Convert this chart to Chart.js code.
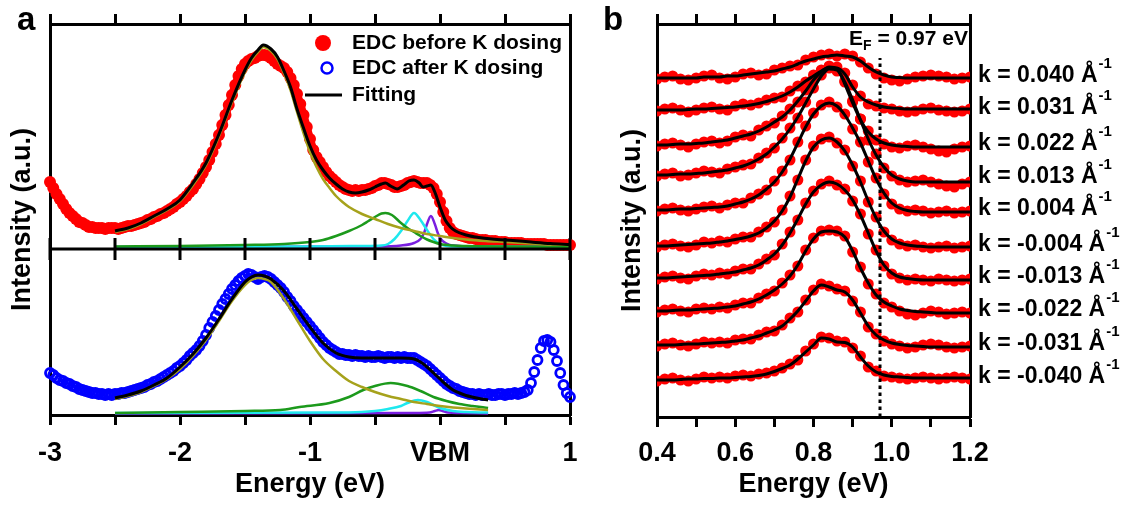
<!DOCTYPE html>
<html>
<head>
<meta charset="utf-8">
<script src="https://cdn.jsdelivr.net/npm/chart.js@4.4.1/dist/chart.umd.min.js"></script>
<style>
  html, body { margin: 0; padding: 0; background: #fff; }
  body { width: 1125px; height: 506px; position: relative; overflow: hidden; }
  canvas { position: absolute; top: 0; }
  #edcChart { left: 0; }
  #cutChart { left: 600px; }
</style>
</head>
<body>
<canvas id="edcChart" width="600" height="506"></canvas>
<canvas id="cutChart" width="525" height="506"></canvas>
<script>
const FONT = '"Liberation Sans", Arial, Helvetica, sans-serif';

// ---------- panel a: EDCs through the VBM before / after K dosing ----------
const edcStart = -3.0;
const edcStep = 0.025;
const upperOffset = 166; // "before" curves are stacked above the "after" curves

const edcBefore = [
  67, 61, 55, 50, 45, 40, 36, 33, 30, 27,
  26, 24, 22, 22, 21, 21, 21, 20, 21, 21,
  21, 20, 21, 22, 23, 23, 24, 25, 26, 27,
  29, 30, 32, 33, 35, 36, 38, 40, 42, 45,
  47, 50, 53, 57, 60, 65, 70, 76, 82, 89,
  97, 105, 114, 124, 134, 144, 154, 164, 173, 180,
  185, 188, 190, 191, 193, 194, 194, 193, 191, 188,
  185, 183, 181, 177, 171, 164, 155, 145, 134, 122,
  110, 99, 92, 87, 82, 77, 73, 70, 67, 64,
  62, 60, 59, 58, 59, 58, 59, 59, 60, 61,
  63, 64, 66, 66, 65, 64, 62, 62, 63, 64,
  66, 67, 68, 67, 66, 66, 66, 64, 61, 55,
  47, 37, 28, 21, 17, 15, 14, 13, 12, 11,
  11, 10, 9, 9, 9, 8, 8, 8, 7, 7,
  7, 6, 6, 6, 6, 6, 5, 5, 5, 5,
  5, 5, 5, 4, 4, 4, 4, 4, 4, 4,
  4
];

const edcAfter = [
  42, 40, 37, 35, 34, 32, 31, 29, 28, 26,
  25, 24, 23, 22, 22, 21, 21, 20, 21, 20,
  21, 21, 22, 22, 23, 24, 25, 26, 27, 28,
  30, 31, 33, 34, 36, 38, 40, 42, 44, 47,
  49, 52, 55, 59, 62, 65, 69, 74, 80, 87,
  93, 99, 105, 111, 116, 121, 126, 130, 134, 137,
  139, 141, 140, 138, 136, 138, 139, 138, 136, 133,
  130, 127, 123, 118, 114, 109, 105, 101, 97, 93,
  89, 85, 81, 77, 73, 70, 67, 65, 63, 61,
  61, 60, 60, 59, 60, 59, 59, 58, 59, 58,
  58, 59, 58, 57, 58, 58, 57, 58, 57, 58,
  57, 57, 57, 55, 53, 51, 49, 46, 43, 40,
  37, 34, 31, 29, 27, 26, 24, 23, 22, 21,
  21, 20, 21, 20, 20, 21, 20, 20, 21, 21,
  20, 21, 21, 22, 21, 22, 23, 25, 32, 43,
  55, 67, 74, 75, 73, 65, 54, 42, 30, 22,
  18
];

// fitted curves, [energy, intensity]
const fitBefore = [
  [-2.5, 18], [-2.4, 21], [-2.3, 26], [-2.2, 33], [-2.1, 40], [-2.0, 49], [-1.9, 66],
  [-1.8, 86], [-1.7, 115], [-1.6, 149], [-1.5, 179], [-1.45, 191], [-1.4, 199], [-1.36, 204],
  [-1.3, 200], [-1.25, 192], [-1.2, 178], [-1.15, 162], [-1.1, 140], [-1.05, 121], [-1.0, 103],
  [-0.95, 89], [-0.9, 79], [-0.85, 71], [-0.8, 65], [-0.75, 60], [-0.7, 57], [-0.65, 56],
  [-0.6, 57], [-0.55, 59], [-0.5, 62], [-0.45, 65], [-0.42, 66], [-0.38, 63], [-0.33, 60],
  [-0.28, 64], [-0.24, 68], [-0.2, 69], [-0.16, 66], [-0.13, 62], [-0.1, 63], [-0.07, 64],
  [-0.04, 57], [0.0, 42], [0.04, 29], [0.08, 22], [0.12, 18], [0.2, 14], [0.3, 11.5],
  [0.4, 10], [0.56, 8.5], [0.7, 7], [0.85, 5.5], [1.0, 4.5]
];
const bkgBefore = [
  [-2.5, 17], [-2.4, 20], [-2.3, 25], [-2.2, 32], [-2.1, 39], [-2.0, 48], [-1.9, 64],
  [-1.8, 84], [-1.7, 113], [-1.6, 147], [-1.5, 177], [-1.45, 189], [-1.4, 197], [-1.36, 202],
  [-1.3, 198], [-1.25, 190], [-1.2, 176], [-1.15, 159], [-1.1, 137], [-1.05, 116], [-1.0, 97],
  [-0.95, 82], [-0.9, 70], [-0.85, 61], [-0.8, 53], [-0.75, 47], [-0.7, 42], [-0.6, 35],
  [-0.5, 30], [-0.4, 25], [-0.3, 21], [-0.2, 18], [-0.1, 15], [0.0, 13], [0.1, 11],
  [0.2, 9.5], [0.35, 8], [0.5, 7], [0.7, 5.5], [0.85, 4.5], [1.0, 4]
];
const peak1Before = [
  [-2.5, 2.5], [-2.0, 3], [-1.5, 4], [-1.2, 5], [-1.0, 7], [-0.9, 9], [-0.8, 13], [-0.7, 18],
  [-0.6, 24], [-0.55, 28], [-0.5, 32], [-0.45, 35.5], [-0.42, 36], [-0.37, 34], [-0.3, 26],
  [-0.25, 21], [-0.2, 17], [-0.15, 13], [-0.1, 9.5], [-0.05, 7], [0.0, 5], [0.1, 3.5],
  [0.2, 3], [0.5, 2.5], [1.0, 2]
];
const peak2Before = [
  [-2.5, 2], [-1.0, 2.5], [-0.6, 3], [-0.45, 3.5], [-0.4, 5], [-0.35, 10], [-0.3, 18],
  [-0.25, 28], [-0.2, 36], [-0.15, 29], [-0.1, 19], [-0.05, 10], [0.0, 5], [0.05, 3],
  [0.1, 2.5], [0.5, 2.2], [1.0, 2]
];
const peak3Before = [
  [-2.5, 2], [-0.5, 2.5], [-0.3, 3.5], [-0.2, 6], [-0.15, 10], [-0.12, 17], [-0.1, 25],
  [-0.07, 33], [-0.04, 25], [-0.02, 17], [0.0, 11], [0.05, 5.5], [0.1, 3.5], [0.3, 2.5],
  [1.0, 2]
];

const fitAfter = [
  [-2.5, 17], [-2.4, 20], [-2.3, 24], [-2.2, 30], [-2.1, 37], [-2.0, 48], [-1.9, 61],
  [-1.8, 77], [-1.7, 96], [-1.6, 116], [-1.5, 133], [-1.45, 138], [-1.4, 140], [-1.35, 139],
  [-1.3, 136], [-1.2, 124], [-1.1, 106], [-1.0, 88], [-0.9, 72], [-0.8, 62], [-0.7, 58],
  [-0.6, 57], [-0.5, 57], [-0.4, 57], [-0.3, 57], [-0.2, 56], [-0.15, 53], [-0.1, 48],
  [-0.05, 42], [0.0, 36], [0.05, 30], [0.1, 25], [0.15, 22], [0.2, 19.5], [0.3, 16.5],
  [0.37, 15]
];
const bkgAfter = [
  [-2.5, 16], [-2.4, 19], [-2.3, 23], [-2.2, 29], [-2.1, 36], [-2.0, 46], [-1.9, 59],
  [-1.8, 75], [-1.7, 94], [-1.6, 114], [-1.5, 130], [-1.45, 135], [-1.4, 137], [-1.35, 136],
  [-1.3, 133], [-1.2, 116], [-1.1, 95], [-1.0, 74], [-0.9, 56], [-0.8, 44], [-0.7, 34],
  [-0.6, 28], [-0.5, 23], [-0.4, 19], [-0.3, 16], [-0.2, 13], [-0.1, 11], [0.0, 9],
  [0.1, 7.5], [0.2, 6.5], [0.37, 5]
];
const peak1After = [
  [-2.5, 2], [-2.0, 3], [-1.5, 4], [-1.23, 5], [-1.08, 8], [-0.85, 12], [-0.7, 18],
  [-0.59, 25], [-0.5, 29], [-0.38, 32], [-0.25, 29], [-0.15, 24], [-0.05, 18], [0.05, 14],
  [0.15, 11], [0.25, 9], [0.37, 7]
];
const peak2After = [
  [-2.5, 2], [-0.7, 2.5], [-0.5, 4], [-0.4, 6], [-0.3, 9], [-0.25, 12], [-0.17, 15],
  [-0.1, 13], [-0.05, 10], [0.0, 7], [0.1, 4], [0.2, 3], [0.37, 2.5]
];
const peak3After = [
  [-2.5, 1.5], [-0.2, 2], [-0.08, 2.5], [-0.04, 4], [-0.01, 5], [0.02, 4], [0.06, 2.5],
  [0.15, 2], [0.37, 1.5]
];

// ---------- panel b: EDC stack at fixed k ----------
const cutStart = 0.40;
const cutStep = 0.02;
const fermiLevel = 0.97;
const fermiLineTop = 359;

const data040 = [338,340,341,338,337,339,341,342,339,338, 340,343,344,342,343,347,349,351,352,357, 360,362,363,361,363,361,355,349,343,339, 337,336,338,340,341,342,341,340,338,339,340];
const fit040  = [339,339,339,339,339,339,340,340,340,341, 341,342,343,344,345,346,348,350,353,356, 358,360,361,362,361,360,356,350,345,342, 340,339.5,339,339,339,339,339,339,339,339,339];
const data031 = [306,308,309,307,305,307,309,310,308,307, 311,313,312,314,317,319,320,326,331,335, 342,347,350,350,344,332,321,313,311,309, 308,306,305,306,308,309,307,306,305,306,308];
const fit031  = [307,307,307,307,307.5,308,308,308.5,309,309.5, 310,311,312,313.5,315.5,318,321,325,330,336, 341,346,349.5,349,343,330,320,315,312,310, 309,308.5,308,308,308,308,308,308,308,308,308];
const data022 = [271,273,274,272,270,273,275,276,274,276, 280,282,281,287,291,294,301,308,315,327, 338,346,351,347,335,315,298,286,277,273, 270,269,271,272,270,268,266,265,268,270,271];
const fit022  = [272,272,272.5,273,273,273.5,274,275,276,277, 279,281,283,286,290,295,300,307,316,326, 337,345,350,348,333,314,297,285,278,274, 272,271,270.5,270,270,270,270,270,270,270,270];
const data013 = [241,243,244,241,242,244,246,245,244,248, 250,252,253,259,264,269,279,289,299,315, 329,342,349,346,336,316,298,277,263,249, 241,237,235,236,237,235,233,231,230,233,235];
const fit013  = [242,242,242.5,243,243,243.5,244,245,246,247, 249,251,254,258,263,270,278,288,300,314, 328,341,348,347,335,317,297,278,262,250, 242,238,236,235,235,235,235,235,235,235,235];
const data004 = [206,208,209,207,206,208,210,211,209,212, 214,214,219,223,227,236,246,257,275,291, 304,312,315,310,303,288,275,255,239,223, 213,208,206,207,206,204,205,206,204,205,206];
const fit004  = [207,207,207.5,208,208,208.5,209,209.5,210,211, 213,215,218,222,228,235,245,258,274,290, 303,311,314,311,302,289,274,256,238,224, 214,209,206.5,205.5,205,205,205,205,205,205,205];
const dataM004 = [170,172,173,171,170,172,175,174,176,175, 178,180,180,185,190,195,207,221,237,257, 271,278,280,274,267,251,236,215,200,185, 177,173,171,172,170,169,170,171,169,170,171];
const fitM004  = [171,171,171.5,172,172.5,173,173.5,174,175,176, 177.5,179,181,184,189,196,206,220,238,256, 270,277,279,275,266,252,235,216,199,186, 178,174,172,171,170.5,170,170,170,170,170,170];
const dataM013 = [138,140,141,139,138,141,143,142,144,143, 146,148,148,153,158,162,173,185,197,214, 226,233,236,232,228,216,203,183,167,151, 143,139,137,138,137,136,138,137,136,137,138];
const fitM013  = [139,139,139.5,140,140.5,141,141.5,142,143,144, 145,147,149,152,157,163,172,184,198,213, 225,232,235,233,227,217,202,184,166,152, 144,140,138.5,137.5,137,137,137,137,137,137,137];
const dataM022 = [105,107,108,106,105,108,109,108,110,109, 112,114,114,119,123,126,134,142,151,167, 179,186,187,186,181,165,150,133,123,114, 110,106,103,102,104,106,105,103,104,105,104];
const fitM022  = [106,106,106.5,107,107,107.5,108,108.5,109,110, 111,113,115,118,122,127,133,141,152,166, 178,185,186,185,180,166,149,134,122,115, 111,108,106.5,105.5,105,104.5,104,104,104,104,104];
const dataM031 = [71,73,74,72,71,73,75,74,75,74, 77,78,78,82,85,86,92,99,105,117, 127,133,131,128,126,116,105,90,83,76, 73,71,69,70,72,73,72,70,69,70,71];
const fitM031  = [72,72,72,72.5,73,73,73.5,74,74.5,75, 76,77,79,81,84,87,91,98,106,116, 126,132,130,127,125,117,104,91,82,77, 74,72.5,71.5,71,70.5,70,70,70,70,70,70];
const dataM040 = [36,38,39,37,36,38,40,39,40,39, 41,42,41,43,44,46,49,53,57,66, 73,80,79,76,75,69,61,50,46,41, 40,39,38,39,40,39,38,39,40,39,38];
const fitM040  = [37,37,37,37.5,38,38,38.5,38.5,39,39, 39.5,40,40.5,41.5,43,45.5,48.5,52,58,65, 72,79,78,75,74.5,70,60,51,45,42, 40.5,40,39.5,39,39,39,39,39,39,39,39];

const kValues = ['0.040', '0.031', '0.022', '0.013', '0.004', '-0.004', '-0.013', '-0.022', '-0.031', '-0.040'];
const cutDots = [data040, data031, data022, data013, data004, dataM004, dataM013, dataM022, dataM031, dataM040];
const cutFits = [fit040, fit031, fit022, fit013, fit004, fitM004, fitM013, fitM022, fitM031, fitM040];

// ---------- helpers ----------
const OLIVE = '#a6a21c', GREEN = '#1c9a1c', CYAN = '#1ee8ee', PURPLE = '#7a1fe0';

const toPoints = (list, shift = 0) => list.map(([x, y]) => ({ x, y: y + shift }));
const onGrid = (start, step, values, shift = 0) =>
  values.map((v, i) => ({ x: +(start + i * step).toFixed(3), y: v + shift }));

function curve(data, color, width) {
  return {
    data, borderColor: color, borderWidth: width, pointRadius: 0,
    cubicInterpolationMode: 'monotone', fill: false
  };
}

function frameAxis(position, min, max, step, extra = {}) {
  return Object.assign({
    type: 'linear', position, min, max,
    ticks: { display: false, stepSize: step },
    grid: { drawOnChartArea: false, tickLength: 10, tickWidth: 3, color: '#000' },
    border: { width: 3, color: '#000' }
  }, extra);
}

const tickFont = { family: FONT, size: 27, weight: 'bold' };

// ---------- panel a chart ----------
const edcExtras = {
  id: 'edcExtras',
  afterDatasetsDraw(chart) {
    const { ctx, chartArea: area, scales: { x, y } } = chart;
    const yMid = y.getPixelForValue(upperOffset);
    ctx.save();
    // divider between the two stacked spectra, with its tick marks
    ctx.strokeStyle = '#000';
    ctx.lineWidth = 3;
    ctx.beginPath();
    ctx.moveTo(area.left, yMid);
    ctx.lineTo(area.right, yMid);
    x.ticks.forEach(t => {
      const px = x.getPixelForValue(t.value);
      ctx.moveTo(px, yMid - 11);
      ctx.lineTo(px, yMid + 11);
    });
    ctx.stroke();

    // legend
    const mx = area.right - 245, tx = area.right - 218;
    const rows = [area.top + 19, area.top + 44, area.top + 71];
    ctx.fillStyle = '#ff0000';
    ctx.beginPath(); ctx.arc(mx - 2, rows[0], 8, 0, Math.PI * 2); ctx.fill();
    ctx.strokeStyle = '#0000ff'; ctx.lineWidth = 2.5;
    ctx.beginPath(); ctx.arc(mx + 2, rows[1], 5.5, 0, Math.PI * 2); ctx.stroke();
    ctx.strokeStyle = '#000'; ctx.lineWidth = 3;
    ctx.beginPath(); ctx.moveTo(mx - 20, rows[2]); ctx.lineTo(mx + 17, rows[2]); ctx.stroke();
    ctx.fillStyle = '#000';
    ctx.font = `bold 21px ${FONT}`;
    ctx.textBaseline = 'middle';
    ctx.fillText('EDC before K dosing', tx, rows[0]);
    ctx.fillText('EDC after K dosing', tx, rows[1]);
    ctx.fillText('Fitting', tx, rows[2]);

    ctx.font = `bold 33px ${FONT}`;
    ctx.textBaseline = 'alphabetic';
    ctx.fillText('a', 17, 30);
    ctx.restore();
  }
};

new Chart(document.getElementById('edcChart'), {
  type: 'line',
  data: {
    datasets: [
      curve(toPoints(fitBefore, upperOffset), '#000', 3),
      curve(toPoints(fitAfter), '#000', 3),
      curve(toPoints(bkgBefore, upperOffset), OLIVE, 2.5),
      curve(toPoints(bkgAfter), OLIVE, 2.5),
      curve(toPoints(peak1Before, upperOffset), GREEN, 2.5),
      curve(toPoints(peak1After), GREEN, 2.5),
      curve(toPoints(peak2Before, upperOffset), CYAN, 2.5),
      curve(toPoints(peak2After), CYAN, 2.5),
      curve(toPoints(peak3Before, upperOffset), PURPLE, 2.5),
      curve(toPoints(peak3After), PURPLE, 2.5),
      {
        // dense filled markers merge into a band
        data: onGrid(edcStart, edcStep, edcBefore, upperOffset), showLine: true,
        borderColor: '#ff0000', borderWidth: 8, borderJoinStyle: 'round', borderCapStyle: 'round',
        pointRadius: 6, pointBorderWidth: 0, pointBackgroundColor: '#ff0000', clip: false
      },
      {
        data: onGrid(edcStart, edcStep, edcAfter), showLine: false,
        pointRadius: 4.5, pointBorderWidth: 2.8, pointBorderColor: '#0000ff',
        pointBackgroundColor: 'rgba(0,0,0,0)', clip: false
      }
    ]
  },
  options: {
    responsive: false,
    devicePixelRatio: 1,
    animation: false,
    events: [],
    layout: { padding: { left: 0, right: 20, top: 0, bottom: 0 } },
    plugins: { legend: { display: false }, tooltip: { enabled: false } },
    scales: {
      x: frameAxis('bottom', -3, 1, 0.5, {
        afterFit: s => { s.height = 91; },
        ticks: {
          stepSize: 0.5, autoSkip: false, maxRotation: 0, padding: 12, font: tickFont, color: '#000',
          callback: v => {
            const r = Math.round(v);
            if (Math.abs(v - r) > 1e-6) return '';
            return r === 0 ? 'VBM' : String(r);
          }
        },
        title: { display: true, text: 'Energy (eV)', font: tickFont, color: '#000', padding: { top: 0, bottom: 5 } }
      }),
      xTop: frameAxis('top', -3, 1, 0.5, { afterFit: s => { s.height = 24; } }),
      y: {
        type: 'linear', position: 'left', min: 0, max: 391,
        afterFit: s => { s.width = 50; },
        ticks: { display: false },
        grid: { display: false },
        border: { width: 3, color: '#000' },
        title: { display: true, text: 'Intensity (a.u.)', font: tickFont, color: '#000', padding: { top: 6, bottom: 0 } }
      },
      yRight: {
        type: 'linear', position: 'right', min: 0, max: 391,
        afterFit: s => { s.width = 10; },
        ticks: { display: false },
        grid: { display: false },
        border: { width: 3, color: '#000' }
      }
    }
  },
  plugins: [edcExtras]
});

// ---------- panel b chart ----------
const cutExtras = {
  id: 'cutExtras',
  afterDraw(chart) {
    const { ctx, chartArea: area, scales: { y } } = chart;
    ctx.save();
    ctx.fillStyle = '#000';
    ctx.textBaseline = 'middle';
    kValues.forEach((k, i) => {
      const f = cutFits[i];
      const yc = y.getPixelForValue((f[0] + f[f.length - 1]) / 2) - 2;
      const main = `k = ${k} Å`;
      ctx.font = `bold 23px ${FONT}`;
      const w = ctx.measureText(main).width;
      ctx.fillText(main, area.right + 8, yc);
      ctx.font = `bold 15px ${FONT}`;
      ctx.fillText('-1', area.right + 9 + w, yc - 12);
    });

    // Fermi level label
    const rest = ` = ${fermiLevel.toFixed(2)} eV`;
    ctx.textBaseline = 'alphabetic';
    ctx.font = `bold 21px ${FONT}`;
    const wE = ctx.measureText('E').width;
    const wRest = ctx.measureText(rest).width;
    ctx.font = `bold 14px ${FONT}`;
    const wF = ctx.measureText('F').width;
    const x0 = area.right - 2 - (wE + wF + wRest);
    const base = area.top + 21;
    ctx.font = `bold 21px ${FONT}`;
    ctx.fillText('E', x0, base);
    ctx.font = `bold 14px ${FONT}`;
    ctx.fillText('F', x0 + wE, base + 5);
    ctx.font = `bold 21px ${FONT}`;
    ctx.fillText(rest, x0 + wE + wF, base);

    ctx.font = `bold 33px ${FONT}`;
    ctx.fillText('b', 3, 30);
    ctx.restore();
  }
};

const cutDatasets = [{
  data: [{ x: fermiLevel, y: 0 }, { x: fermiLevel, y: fermiLineTop }],
  borderColor: '#000', borderWidth: 3, borderDash: [3.5, 3.5], pointRadius: 0
}];
cutFits.forEach(f => cutDatasets.push(curve(onGrid(cutStart, cutStep, f), '#000', 3)));
cutDots.forEach(d => cutDatasets.push({
  data: onGrid(cutStart, cutStep, d), showLine: false,
  pointRadius: 5.5, pointBorderWidth: 0, pointBackgroundColor: '#ff0000'
}));

new Chart(document.getElementById('cutChart'), {
  type: 'line',
  data: { datasets: cutDatasets },
  options: {
    responsive: false,
    devicePixelRatio: 1,
    animation: false,
    events: [],
    layout: { padding: { left: 0, right: 130, top: 0, bottom: 0 } },
    plugins: { legend: { display: false }, tooltip: { enabled: false } },
    scales: {
      x: frameAxis('bottom', 0.4, 1.2, 0.1, {
        afterFit: s => { s.height = 89; },
        ticks: {
          stepSize: 0.1, autoSkip: false, maxRotation: 0, padding: 10, font: tickFont, color: '#000',
          callback: v => (Math.round(v * 10) % 2 === 0 ? v.toFixed(1) : '')
        },
        title: { display: true, text: 'Energy (eV)', font: tickFont, color: '#000', padding: { top: 0, bottom: 5 } }
      }),
      xTop: frameAxis('top', 0.4, 1.2, 0.1, { afterFit: s => { s.height = 24; } }),
      y: {
        type: 'linear', position: 'left', min: 0, max: 393,
        afterFit: s => { s.width = 57; },
        ticks: { display: false },
        grid: { display: false },
        border: { width: 3, color: '#000' },
        title: { display: true, text: 'Intensity (a.u.)', font: tickFont, color: '#000', padding: { top: 16, bottom: 0 } }
      },
      yRight: {
        type: 'linear', position: 'right', min: 0, max: 393,
        afterFit: s => { s.width = 25; },
        ticks: { display: false },
        grid: { display: false },
        border: { width: 3, color: '#000' }
      }
    }
  },
  plugins: [cutExtras]
});
</script>
</body>
</html>
